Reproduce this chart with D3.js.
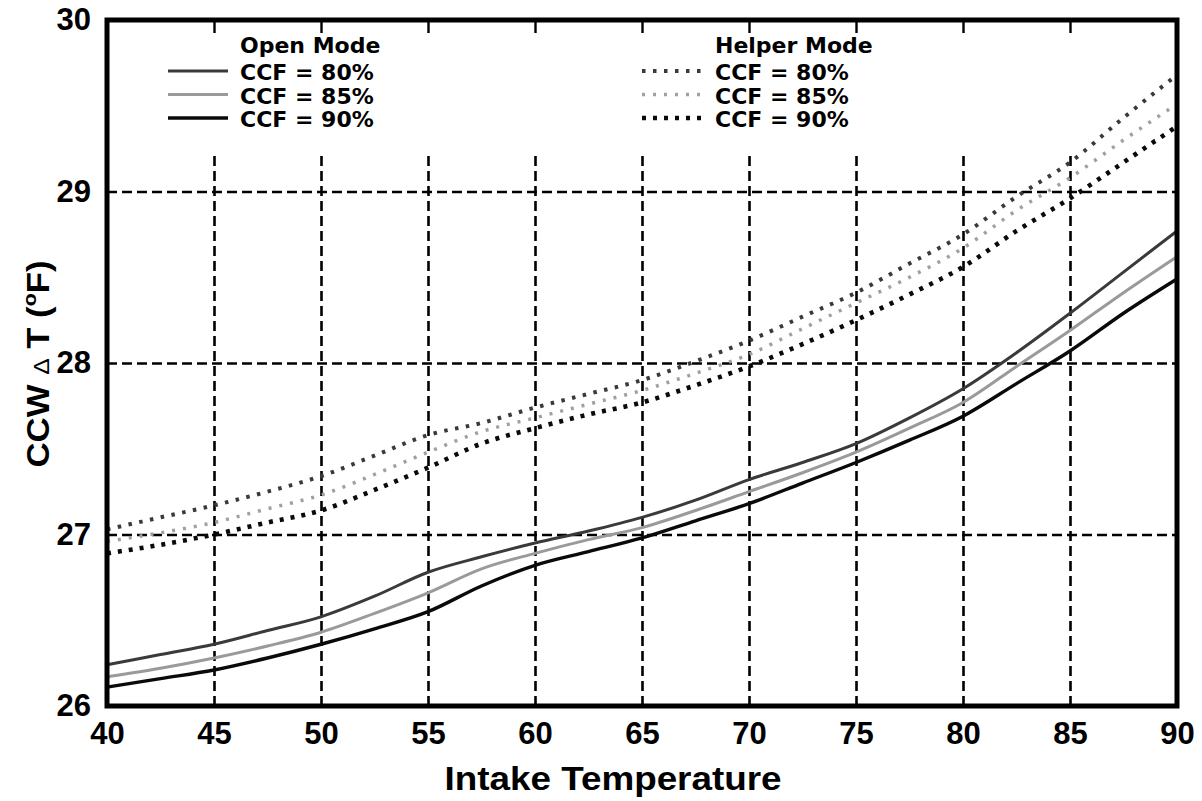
<!DOCTYPE html>
<html>
<head>
<meta charset="utf-8">
<script src="https://cdn.jsdelivr.net/npm/d3@7"></script>
<style>
  html, body { margin: 0; padding: 0; background: #fff; }
  svg { display: block; }
</style>
</head>
<body>
<svg id="chart" width="1202" height="801"></svg>
<script>
// ---------------- data ----------------
const temps = [40, 42.5, 45, 47.5, 50, 52.5, 55, 57.5, 60, 62.5, 65, 67.5, 70, 72.5, 75, 77.5, 80, 82.5, 85, 87.5, 90];

const openCCF80 = [26.24, 26.30, 26.36, 26.44, 26.52, 26.64, 26.78, 26.87, 26.95, 27.02, 27.10, 27.20, 27.32, 27.42, 27.53, 27.68, 27.85, 28.06, 28.29, 28.53, 28.77];
const openCCF85 = [26.17, 26.22, 26.28, 26.35, 26.43, 26.54, 26.66, 26.80, 26.89, 26.97, 27.04, 27.14, 27.25, 27.36, 27.48, 27.62, 27.77, 27.98, 28.19, 28.41, 28.62];
const openCCF90 = [26.11, 26.16, 26.21, 26.28, 26.36, 26.45, 26.55, 26.70, 26.82, 26.90, 26.98, 27.08, 27.18, 27.30, 27.42, 27.55, 27.69, 27.88, 28.07, 28.29, 28.49];

const helperCCF80 = [27.03, 27.10, 27.17, 27.25, 27.34, 27.46, 27.58, 27.65, 27.74, 27.82, 27.90, 28.01, 28.13, 28.27, 28.41, 28.58, 28.75, 28.97, 29.17, 29.43, 29.68];
const helperCCF85 = [26.96, 27.01, 27.07, 27.15, 27.23, 27.35, 27.48, 27.60, 27.68, 27.76, 27.84, 27.94, 28.05, 28.20, 28.35, 28.50, 28.67, 28.89, 29.08, 29.30, 29.51];
const helperCCF90 = [26.89, 26.94, 27.00, 27.07, 27.14, 27.26, 27.39, 27.53, 27.62, 27.70, 27.77, 27.87, 27.98, 28.11, 28.25, 28.40, 28.56, 28.77, 28.96, 29.17, 29.38];

const xTickValues = [40, 45, 50, 55, 60, 65, 70, 75, 80, 85, 90];
const yTickValues = [26, 27, 28, 29, 30];
const xTitle = "Intake Temperature";
const legendOpenTitle = "Open Mode";
const legendHelperTitle = "Helper Mode";
const legendLabels = ["CCF = 80%", "CCF = 85%", "CCF = 90%"];

// ---------------- layout ----------------
const svg = d3.select("#chart");
const L = 107, R = 1177, T = 20, B = 706;
const x = d3.scaleLinear().domain([40, 90]).range([L, R]);
const y = d3.scaleLinear().domain([26, 30]).range([B, T]);

const FONT = "'Liberation Sans', Arial, Helvetica, sans-serif";
const LFONT = "'DejaVu Sans', Verdana, sans-serif";

// grid lines (vertical start below legend band)
const gridTop = 156;
const gx = svg.append("g").attr("transform", `translate(0,${B})`)
  .call(d3.axisBottom(x).tickValues(xTickValues.slice(1, -1)).tickSize(-(B - gridTop)).tickFormat(""));
gx.select(".domain").remove();
gx.selectAll("line").attr("stroke", "#000").attr("stroke-width", 2.6).attr("stroke-dasharray", "10,5");

const gy = svg.append("g").attr("transform", `translate(${L},0)`)
  .call(d3.axisLeft(y).tickValues(yTickValues.slice(1, -1)).tickSize(-(R - L)).tickFormat(""));
gy.select(".domain").remove();
gy.selectAll("line").attr("stroke", "#000").attr("stroke-width", 2.6).attr("stroke-dasharray", "10,5");

// top inward ticks
const tt = svg.append("g").attr("transform", `translate(0,${T})`)
  .call(d3.axisTop(x).tickValues(xTickValues.slice(1, -1)).tickSize(-13).tickFormat(""));
tt.select(".domain").remove();
tt.selectAll("line").attr("stroke", "#000").attr("stroke-width", 2.4);

// ---------------- series ----------------
const line = d3.line().x(d => x(d[0])).y(d => y(d[1])).curve(d3.curveMonotoneX);
const zip = vals => temps.map((t, i) => [t, vals[i]]);

const series = [
  { vals: openCCF80, color: "#3a3a3a", width: 3, dash: null },
  { vals: openCCF85, color: "#9a9a9a", width: 3, dash: null },
  { vals: openCCF90, color: "#0a0a0a", width: 3.4, dash: null },
  { vals: helperCCF80, color: "#3a3a3a", width: 4, dash: "3.5,7.5" },
  { vals: helperCCF85, color: "#a0a0a0", width: 3.5, dash: "3,8" },
  { vals: helperCCF90, color: "#0a0a0a", width: 4.6, dash: "4,7" }
];

svg.append("g").selectAll("path").data(series).join("path")
  .attr("d", s => line(zip(s.vals)))
  .attr("fill", "none")
  .attr("stroke", s => s.color)
  .attr("stroke-width", s => s.width)
  .attr("stroke-dasharray", s => s.dash)
  .attr("stroke-linecap", "butt");

// ---------------- frame ----------------
svg.append("rect").attr("x", L).attr("y", T).attr("width", R - L).attr("height", B - T)
  .attr("fill", "none").attr("stroke", "#000").attr("stroke-width", 5);

// ---------------- axes labels ----------------
const ax = svg.append("g").attr("transform", `translate(0,${B})`)
  .call(d3.axisBottom(x).tickValues(xTickValues).tickSize(0).tickPadding(16).tickFormat(d3.format("d")));
ax.select(".domain").remove();
ax.selectAll("text").attr("font-family", FONT).attr("font-weight", "bold").attr("font-size", 31).attr("fill", "#000");

const ay = svg.append("g").attr("transform", `translate(${L},0)`)
  .call(d3.axisLeft(y).tickValues(yTickValues).tickSize(0).tickPadding(16).tickFormat(d3.format("d")));
ay.select(".domain").remove();
ay.selectAll("text").attr("font-family", FONT).attr("font-weight", "bold").attr("font-size", 31).attr("fill", "#000");

svg.append("text").attr("x", 613).attr("y", 790).attr("text-anchor", "middle")
  .attr("font-family", FONT).attr("font-weight", "bold").attr("font-size", 33).attr("fill", "#000")
  .attr("textLength", 337).attr("lengthAdjust", "spacingAndGlyphs")
  .text(xTitle);

const yt = svg.append("text").attr("transform", "translate(49,364) rotate(-90)").attr("text-anchor", "middle")
  .attr("font-family", FONT).attr("font-weight", "bold").attr("font-size", 31).attr("fill", "#000")
  .attr("textLength", 207).attr("lengthAdjust", "spacingAndGlyphs");
yt.append("tspan").text("CCW ");
yt.append("tspan").attr("font-size", 22).attr("font-weight", "normal").text("Δ");
yt.append("tspan").text(" T (");
yt.append("tspan").attr("font-size", 19).attr("dy", -13).text("o");
yt.append("tspan").attr("dy", 13).text("F)");

// ---------------- legend ----------------
function legend(x0, lineX0, lineX1, title, group) {
  const g = svg.append("g");
  g.append("text").attr("x", x0).attr("y", 53).attr("font-family", LFONT).attr("font-weight", "bold")
    .attr("font-size", 22).attr("fill", "#000").text(title);
  legendLabels.forEach((lab, i) => {
    const s = series[group * 3 + i];
    const yy = 71 + i * 23.5;
    g.append("line").attr("x1", lineX0).attr("x2", lineX1).attr("y1", yy).attr("y2", yy)
      .attr("stroke", s.color).attr("stroke-width", s.width).attr("stroke-dasharray", s.dash);
    g.append("text").attr("x", x0).attr("y", yy + 9).attr("font-family", LFONT).attr("font-weight", "bold")
      .attr("font-size", 22).attr("fill", "#000").text(lab);
  });
}
legend(240, 168, 228, legendOpenTitle, 0);
legend(715, 642, 704, legendHelperTitle, 1);
</script>
</body>
</html>
